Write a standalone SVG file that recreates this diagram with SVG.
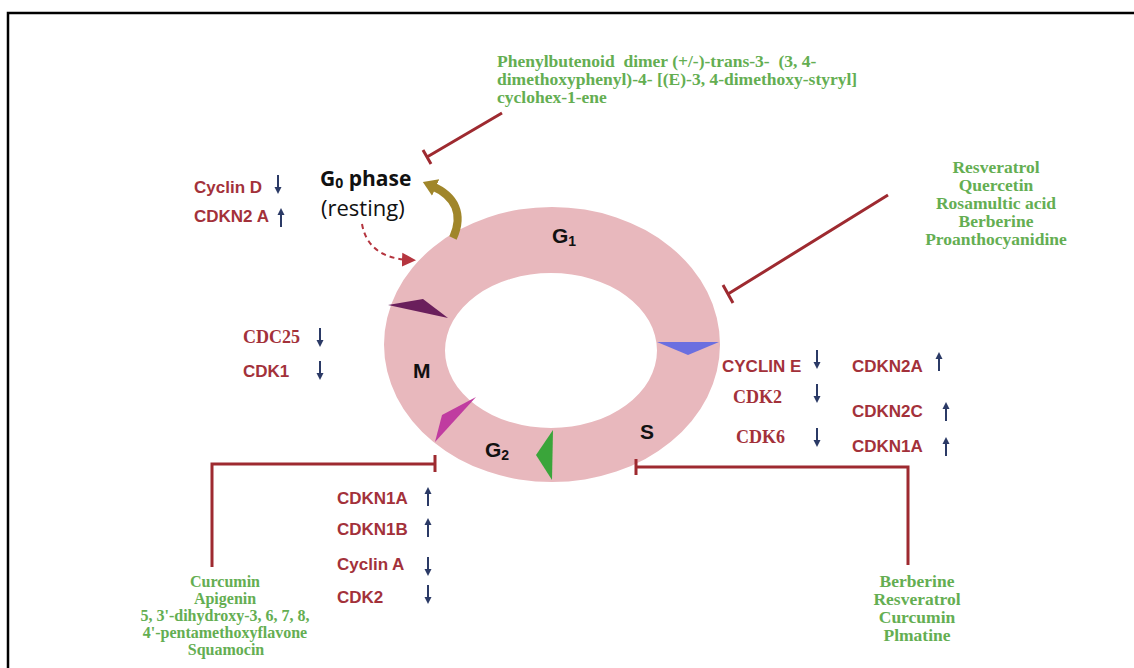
<svg xmlns="http://www.w3.org/2000/svg" width="1134" height="668" viewBox="0 0 1134 668">
<defs>
<style>
.lbl{font-family:"Liberation Sans",Arial,sans-serif;font-weight:bold;font-size:17px;fill:#a3313a}
.lbls{font-family:"Liberation Serif","Times New Roman",serif;font-weight:bold;font-size:18px;fill:#a3313a}
.grn{font-family:"Liberation Serif","Times New Roman",serif;font-weight:bold;font-size:17.5px;fill:#64ae52}
.grs{font-family:"Liberation Serif","Times New Roman",serif;font-weight:bold;font-size:16px;fill:#64ae52}
.phase{font-family:"Liberation Sans",Arial,sans-serif;font-weight:bold;font-size:21px;fill:#111}
.inh{fill:none;stroke:#9e2a30;stroke-width:3}
.arr{fill:none;stroke:#2b3a66;stroke-width:2}
.arrh{fill:#2b3a66}
</style>
<g id="up"><path class="arr" d="M0,9 V-4"/><path class="arrh" d="M-3.5,-3 L0,-10 L3.5,-3 Z"/></g>
<g id="down"><path class="arr" d="M0,-9 V4"/><path class="arrh" d="M-3.5,3 L0,10 L3.5,3 Z"/></g>
<marker id="brownHead" markerWidth="20" markerHeight="20" refX="4" refY="9" orient="auto" markerUnits="userSpaceOnUse"><path d="M0,0 L14,9 L0,18 Z" fill="#a0862a"/></marker>
<marker id="redHead" markerWidth="8" markerHeight="8" refX="4" refY="4" orient="auto" markerUnits="strokeWidth"><path d="M0,0.5 L7,4 L0,7.5 Z" fill="#b5353f"/></marker>
</defs>
<rect width="1134" height="668" fill="#fff"/>
<path d="M8,668 V13 H1134" fill="none" stroke="#000" stroke-width="2.5"/>

<g id="cycle">
<path fill="#e8b8bd" fill-rule="evenodd" d="M384,344.5 A168,137.5 0 1,0 720,344.5 A168,137.5 0 1,0 384,344.5 Z M445,350.5 A106,77.5 0 1,0 657,350.5 A106,77.5 0 1,0 445,350.5 Z"/>
<polygon points="388,305 423,299 448,318" fill="#6a1f5c"/>
<polygon points="657,342 719,342 688,355" fill="#6b6fe0"/>
<polygon points="476,397 442,415 435,442" fill="#c03ca0"/>
<polygon points="553,430 536,455 552,480" fill="#3aa53a"/>
<text class="phase" x="552" y="243">G<tspan font-size="14" dy="3">1</tspan></text>
<text class="phase" x="413" y="378">M</text>
<text class="phase" x="485" y="457">G<tspan font-size="14" dy="3">2</tspan></text>
<text class="phase" x="640" y="439">S</text>
</g>

<g id="g0">
<text font-family="'Open Sans','Liberation Sans',sans-serif" font-weight="bold" font-size="21" fill="#111" x="320" y="186">G<tspan font-size="14" dy="2">0</tspan><tspan dy="-2"> phase</tspan></text>
<text font-family="'Open Sans','Liberation Sans',sans-serif" font-size="22" fill="#111" x="321" y="216">(resting)</text>
<path d="M453,238 C464,214 455,196 432,186" fill="none" stroke="#a0862a" stroke-width="8" marker-end="url(#brownHead)"/>
<path d="M362,224 Q368,258 410,260" fill="none" stroke="#b5353f" stroke-width="2" stroke-dasharray="5,4" marker-end="url(#redHead)"/>
</g>

<g id="connectors">
<path class="inh" d="M502,113 L427,157 M423,150 L431,164"/>
<path class="inh" d="M888,195 L728,294 M723,285 L733,303"/>
<path class="inh" d="M212,567 V464 H435 M435,455 V472"/>
<path class="inh" d="M908,565 V467 H636 M636,459 V475"/>
</g>

<g id="g1-left">
<text class="lbl" x="194" y="193">Cyclin D</text>
<text class="lbl" x="194" y="222">CDKN2 A</text>
<use href="#down" x="278" y="184"/>
<use href="#up" x="281" y="218"/>
</g>

<g id="m-left">
<text class="lbls" x="243" y="343">CDC25</text>
<text class="lbl" x="243" y="377">CDK1</text>
<use href="#down" x="320" y="337"/>
<use href="#down" x="320" y="370"/>
</g>

<g id="s-right">
<text class="lbl" x="722" y="372">CYCLIN E</text>
<text class="lbls" x="733" y="403">CDK2</text>
<text class="lbls" x="736" y="443">CDK6</text>
<use href="#down" x="817" y="359"/>
<use href="#down" x="817" y="393"/>
<use href="#down" x="817" y="437"/>
<text class="lbl" x="852" y="372">CDKN2A</text>
<text class="lbl" x="852" y="417">CDKN2C</text>
<text class="lbl" x="852" y="452">CDKN1A</text>
<use href="#up" x="939" y="362"/>
<use href="#up" x="946" y="412"/>
<use href="#up" x="946" y="447"/>
</g>

<g id="g2-bottom">
<text class="lbl" x="337" y="504">CDKN1A</text>
<text class="lbl" x="337" y="535">CDKN1B</text>
<text class="lbl" x="337" y="570">Cyclin A</text>
<text class="lbl" x="337" y="603">CDK2</text>
<use href="#up" x="428" y="497"/>
<use href="#up" x="428" y="528"/>
<use href="#down" x="428" y="566"/>
<use href="#down" x="428" y="594"/>
</g>

<g id="drug-top">
<text class="grn" x="497" y="67" style="white-space:pre">Phenylbutenoid  dimer (+/-)-trans-3-  (3, 4-</text>
<text class="grn" x="497" y="85">dimethoxyphenyl)-4- [(E)-3, 4-dimethoxy-styryl]</text>
<text class="grn" x="497" y="103">cyclohex-1-ene</text>
</g>

<g id="drug-right" text-anchor="middle">
<text class="grn" x="996" y="173">Resveratrol</text>
<text class="grn" x="996" y="191">Quercetin</text>
<text class="grn" x="996" y="209">Rosamultic acid</text>
<text class="grn" x="996" y="227">Berberine</text>
<text class="grn" x="996" y="245">Proanthocyanidine</text>
</g>

<g id="drug-bottom-left" text-anchor="middle">
<text class="grs" x="225" y="587">Curcumin</text>
<text class="grs" x="225" y="604">Apigenin</text>
<text class="grs" x="225" y="621">5, 3'-dihydroxy-3, 6, 7, 8,</text>
<text class="grs" x="225" y="638">4'-pentamethoxyflavone</text>
<text class="grs" x="226" y="655">Squamocin</text>
</g>

<g id="drug-bottom-right" text-anchor="middle">
<text class="grn" x="917" y="587">Berberine</text>
<text class="grn" x="917" y="605">Resveratrol</text>
<text class="grn" x="917" y="623">Curcumin</text>
<text class="grn" x="917" y="641">Plmatine</text>
</g>
</svg>
